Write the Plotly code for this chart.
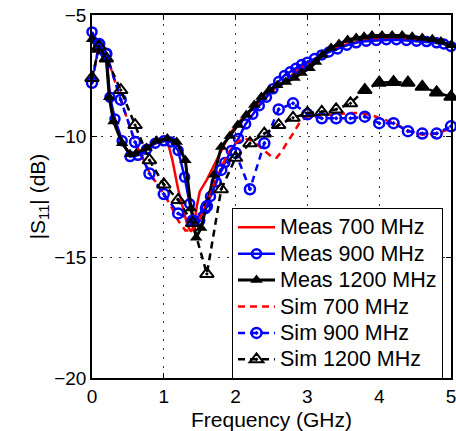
import plotly.graph_objects as go

# ---- data ----
meas700_f = [0, 0.07, 0.2, 0.25, 0.3, 0.42, 0.53, 0.65, 0.8, 0.95, 1.05, 1.12, 1.2, 1.27, 1.33, 1.38, 1.42, 1.46, 1.5, 1.6, 1.7, 1.8, 1.92,
             2.05, 2.2, 2.35, 2.5, 2.6, 2.7, 2.85, 3.0, 3.15, 3.3, 3.5, 3.7, 3.9, 4.1, 4.3, 4.5, 4.7, 4.85, 5.0]
meas700_db = [-6.0, -6.4, -6.8, -8.4, -9.3, -10.3, -10.75, -10.7, -10.45, -10.2, -10.2, -11.0, -12.2, -13.0, -13.7, -13.95, -13.7, -12.9, -12.3, -11.8, -11.2, -10.6, -9.9,
              -9.4, -9.0, -8.6, -8.2, -7.9, -7.7, -7.3, -7.0, -6.8, -6.5, -6.25, -6.1, -6.0, -5.95, -5.95, -6.0, -6.05, -6.15, -6.3]

meas900_f = [0, 0.1, 0.2, 0.25, 0.32, 0.42, 0.53, 0.64, 0.76, 0.88, 1.0, 1.1, 1.2, 1.29, 1.36, 1.43, 1.5, 1.58, 1.65, 1.73,
             1.85, 1.94, 2.04, 2.14, 2.24, 2.33, 2.43, 2.52, 2.6, 2.68, 2.76, 2.84, 2.92, 3.0, 3.1, 3.2, 3.3, 3.42, 3.55,
             3.68, 3.82, 3.96, 4.1, 4.24, 4.38, 4.52, 4.66, 4.8, 4.9, 5.0]
meas900_db = [-5.7, -6.2, -6.6, -8.4, -9.3, -10.2, -10.85, -10.8, -10.55, -10.3, -10.2, -10.25, -10.6, -11.7, -12.8, -13.5, -13.5, -13.0, -12.5, -11.9,
              -11.1, -10.6, -10.1, -9.5, -9.1, -8.75, -8.4, -8.05, -7.75, -7.5, -7.35, -7.2, -7.05, -6.95, -6.8, -6.65, -6.53, -6.4, -6.25,
              -6.15, -6.08, -6.05, -6.02, -6.02, -6.05, -6.08, -6.1, -6.15, -6.2, -6.3]

meas1200_f = [0, 0.07, 0.2, 0.24, 0.3, 0.42, 0.53, 0.62, 0.76, 0.9, 1.05, 1.18, 1.3, 1.38, 1.45, 1.52, 1.6, 1.7, 1.8, 1.92,
              2.03, 2.15, 2.26, 2.36, 2.47, 2.58, 2.7, 2.82, 2.92, 3.03, 3.12, 3.21, 3.33, 3.44, 3.56, 3.68, 3.79, 3.9,
              4.04, 4.18, 4.32, 4.46, 4.6, 4.74, 4.86, 5.0]
meas1200_db = [-6.0, -6.45, -6.8, -8.4, -9.4, -10.3, -10.75, -10.7, -10.5, -10.2, -10.1, -10.25, -11.0, -13.0, -14.2, -13.8, -12.8, -11.6, -10.45, -10.0,
               -9.55, -9.13, -8.72, -8.39, -8.1, -7.9, -7.77, -7.6, -7.4, -7.2, -6.94, -6.65, -6.36, -6.2, -6.03, -5.95, -5.9, -5.85,
               -5.85, -5.85, -5.85, -5.9, -5.95, -6.0, -6.1, -6.25]

sim700_f = [0, 0.1, 0.2, 0.4, 0.6, 0.8, 1.0, 1.1, 1.2, 1.3, 1.4, 1.5, 1.6, 1.7, 1.8, 1.9, 2.0, 2.1, 2.2, 2.3, 2.4, 2.5, 2.57,
            2.65, 2.72, 2.8, 2.9, 3.0, 3.2, 3.4, 3.6, 3.75, 3.9, 4.05, 4.2, 4.35, 4.5, 4.65, 4.8, 4.9, 5.0]
sim700_db = [-7.7, -6.2, -6.6, -8.5, -10.25, -11.5, -12.4, -12.9, -13.5, -13.9, -13.9, -13.4, -12.8, -12.0, -11.3, -10.7, -10.3, -10.1, -10.15, -10.35, -10.6, -10.85, -10.9,
             -10.6, -10.25, -9.9, -9.4, -9.2, -9.15, -9.1, -9.05, -9.05, -9.15, -9.3, -9.45, -9.7, -9.9, -9.95, -9.9, -9.8, -9.7]

sim900_f = [0, 0.1, 0.2, 0.4, 0.6, 0.8, 1.0, 1.2, 1.4, 1.6, 1.8, 2.0, 2.2, 2.4, 2.6, 2.8, 3.0, 3.2, 3.4, 3.6, 3.8, 4.0,
            4.2, 4.4, 4.6, 4.8, 5.0]
sim900_db = [-7.8, -6.2, -6.6, -8.5, -10.25, -11.55, -12.4, -13.2, -13.5, -12.9, -11.4, -10.7, -12.2, -10.3, -8.9, -8.65, -9.1, -9.27, -9.27, -9.27, -9.2, -9.47,
             -9.47, -9.8, -9.9, -9.9, -9.6]

sim1200_f = [0, 0.1, 0.2, 0.4, 0.6, 0.8, 1.0, 1.2, 1.4, 1.6, 1.8, 2.0, 2.2, 2.4, 2.6, 2.8, 3.0, 3.2, 3.4, 3.6, 3.8, 4.0,
             4.2, 4.4, 4.6, 4.8, 5.0]
sim1200_db = [-7.6, -6.3, -6.8, -8.1, -9.55, -11.0, -12.0, -12.64, -13.6, -15.7, -12.2, -10.9, -10.3, -9.9, -9.55, -9.25, -9.05, -9.0, -8.9, -8.65, -8.1, -7.8,
              -7.77, -7.8, -7.97, -8.2, -8.38]

series_names = ["Meas 700 MHz", "Meas 900 MHz", "Meas 1200 MHz", "Sim 700 MHz", "Sim 900 MHz", "Sim 1200 MHz"]
x_ticks = [0, 1, 2, 3, 4, 5]
y_ticks = [-20, -15, -10, -5]

FONT = "Liberation Sans, Arial, sans-serif"


def legend_label(name):
    return '<span style="font-size:21.5px">' + name + '</span>'


fig = go.Figure()
fig.add_trace(go.Scatter(x=meas700_f, y=meas700_db, mode="lines", name=legend_label(series_names[0]),
                         line=dict(color="red", width=2.5), cliponaxis=False))
fig.add_trace(go.Scatter(x=meas900_f, y=meas900_db, mode="lines+markers", name=legend_label(series_names[1]),
                         line=dict(color="blue", width=2.5),
                         marker=dict(symbol="circle-open", size=9, color="blue", line=dict(width=2.5, color="blue")),
                         cliponaxis=False))
fig.add_trace(go.Scatter(x=meas1200_f, y=meas1200_db, mode="lines+markers", name=legend_label(series_names[2]),
                         line=dict(color="black", width=3),
                         marker=dict(symbol="triangle-up", size=11, color="black"),
                         cliponaxis=False))
fig.add_trace(go.Scatter(x=sim700_f, y=sim700_db, mode="lines", name=legend_label(series_names[3]),
                         line=dict(color="red", width=2.5, dash="7px,5px"), cliponaxis=False))
fig.add_trace(go.Scatter(x=sim900_f, y=sim900_db, mode="lines+markers", name=legend_label(series_names[4]),
                         line=dict(color="blue", width=2.5, dash="7px,5px"),
                         marker=dict(symbol="circle-open-dot", size=10, color="blue", line=dict(width=2.5, color="blue")),
                         cliponaxis=False))
sim1200_sym = ["triangle-up-open-dot" if f < 3.7 else "triangle-up" for f in sim1200_f]
fig.add_trace(go.Scatter(x=sim1200_f, y=sim1200_db, mode="lines+markers", name=legend_label(series_names[5]),
                         line=dict(color="black", width=2.5, dash="7px,5px"),
                         marker=dict(symbol=sim1200_sym, size=12, color="black", line=dict(width=2, color="black")),
                         cliponaxis=False))

axis_common = dict(showline=True, linecolor="black", linewidth=1.5, mirror="ticks",
                   ticks="inside", ticklen=5, tickcolor="black", tickwidth=1,
                   showgrid=True, gridcolor="#333", gridwidth=1, griddash="2px,7px",
                   zeroline=False, automargin=False, ticklabeloverflow="allow",
                   tickfont=dict(size=19, family=FONT, color="black"))

fig.update_xaxes(range=[0, 5], tickvals=x_ticks,
                 title=dict(text="Frequency (GHz)", font=dict(size=21, family=FONT, color="black"), standoff=12),
                 **axis_common)
fig.update_yaxes(range=[-20, -5], tickvals=y_ticks,
                 title=dict(text="|S<sub>11</sub>| (dB)", font=dict(size=21, family=FONT, color="black"), standoff=3),
                 **axis_common)

fig.update_layout(
    width=456, height=431,
    margin=dict(l=92, r=5, t=15, b=53),
    paper_bgcolor="white", plot_bgcolor="white",
    font=dict(family=FONT, size=19, color="black"),
    showlegend=True,
    legend=dict(x=0.39, y=0.468, xanchor="left", yanchor="top",
                bordercolor="black", borderwidth=1, bgcolor="white",
                font=dict(size=18, family=FONT, color="black"),
                itemwidth=37, tracegroupgap=0),
)

fig.write_html("out.html")
